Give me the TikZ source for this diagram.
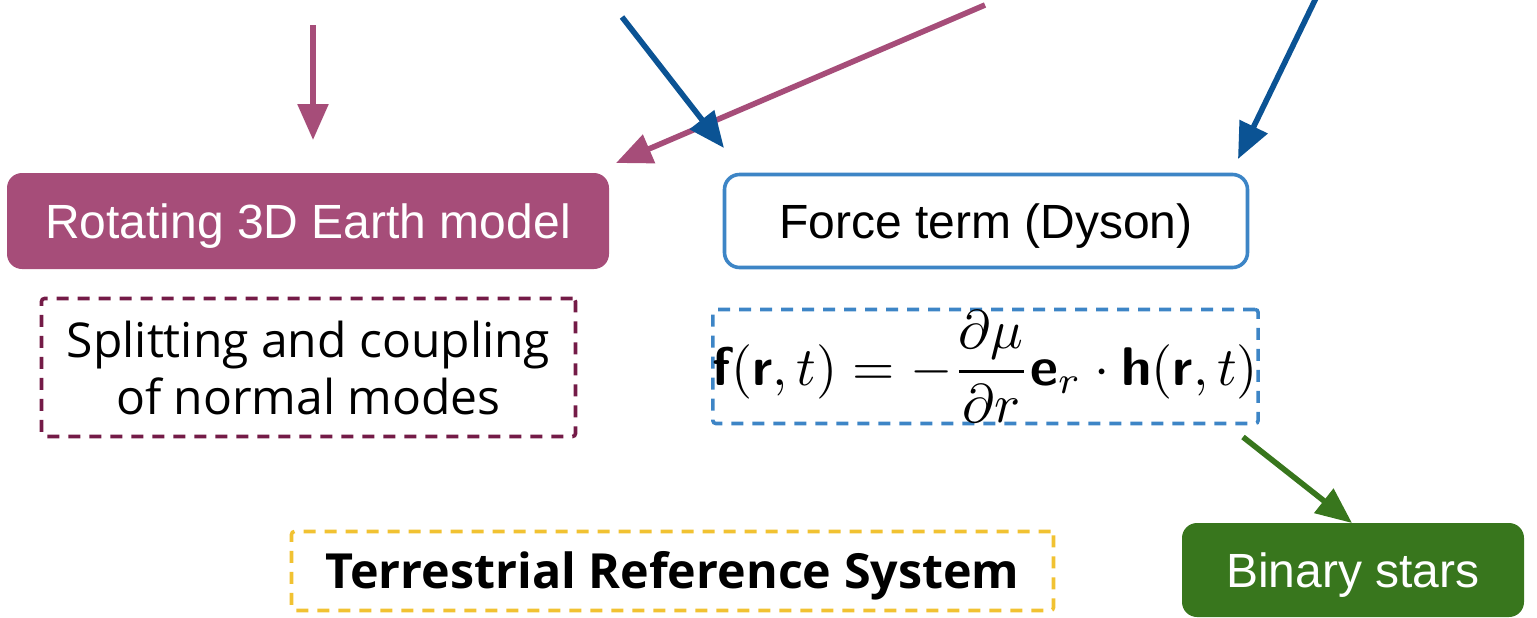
\documentclass[tikz,border=0pt]{standalone}
\usepackage{amsmath}
\usepackage{graphicx}
\usepackage{fontspec}
\newfontfamily\arialf{Liberation Sans}
\newfontfamily\opensf{Open Sans}
\usetikzlibrary{arrows.meta}
\definecolor{magentaC}{HTML}{A64D79}
\definecolor{darkmag}{HTML}{741B47}
\definecolor{blueA}{HTML}{0B5394}
\definecolor{blueB}{HTML}{3D85C6}
\definecolor{greenC}{HTML}{38761D}
\definecolor{yellowC}{HTML}{F1C232}
\newcommand{\bsf}[1]{\text{\sffamily\bfseries #1}}
\begin{document}
\begin{tikzpicture}[x=0.5pt,y=-0.5pt,
  solidbox/.style={rounded corners=7.5pt, inner sep=0pt,
    font=\arialf\fontsize{24}{28}\selectfont, text height=17.2pt, text depth=0pt},
  dashbox/.style={rounded corners=1.5pt, inner sep=0pt, line width=1.8pt,
    dash pattern=on 6pt off 4.5pt},
  arr/.style={-{Triangle[length=18pt,width=15pt]}, line width=2.8pt},
]
\useasboundingbox (0,0) rectangle (1537,617);

\node[solidbox, fill=magentaC, text=white, minimum width=301pt, minimum height=48pt]
  (rot) at (308,221) {Rotating 3D Earth model};
\node[solidbox, draw=blueB, line width=1.8pt, fill=white, text=black,
  minimum width=261.5pt, minimum height=46.5pt]
  (force) at (986,221) {Force term (Dyson)};
\node[dashbox, draw=darkmag, minimum width=267pt, minimum height=69pt,
  align=center, font=\opensf\fontsize{24}{28.5}\selectfont]
  (split) at (308.5,367.5) {Splitting and coupling\\of normal modes};
\node[dashbox, draw=blueB, minimum width=272pt, minimum height=57pt]
  (formula) at (985.5,366.5)
  {\scalebox{2.72}{$\displaystyle \bsf{f}(\bsf{r},t)=-\frac{\partial\mu}{\partial r}\bsf{e}_r\cdot\bsf{h}(\bsf{r},t)$}};
\node[dashbox, draw=yellowC, minimum width=381pt, minimum height=39.5pt,
  font=\opensf\bfseries\fontsize{24.2}{28}\selectfont, text height=17.3pt, text depth=0pt]
  (trs) at (672.5,571) {Terrestrial Reference System};
\node[solidbox, fill=greenC, text=white, minimum width=171pt, minimum height=47pt]
  (bin) at (1353,570) {Binary stars};

\coordinate (a1s) at (313,25);   \coordinate (a1e) at (313,140);
\coordinate (a2s) at (622,17);   \coordinate (a2e) at (724,148);
\coordinate (a3s) at (985,5);    \coordinate (a3e) at (616,163);
\coordinate (a4s) at (1316,-2);  \coordinate (a4e) at (1238,159);
\coordinate (a5s) at (1243,437); \coordinate (a5e) at (1352,523);

\draw[arr, magentaC] (a1s) -- (a1e);
\draw[arr, magentaC] (a3s) -- (a3e);
\draw[arr, blueA] (a2s) -- (a2e);
\draw[arr, blueA] (a4s) -- (a4e);
\draw[arr, greenC] (a5s) -- (a5e);
\end{tikzpicture}
\end{document}
